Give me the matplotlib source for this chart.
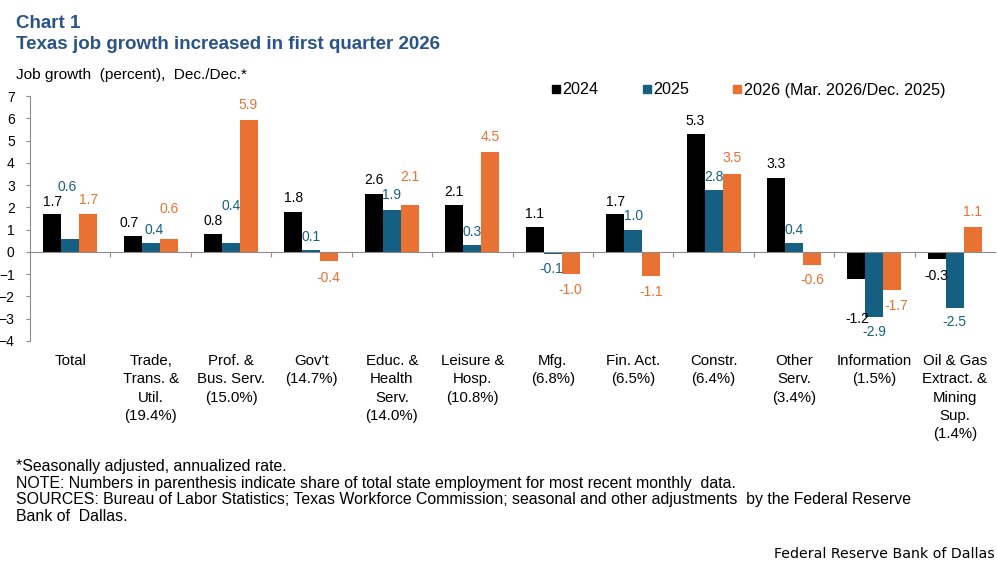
import matplotlib.pyplot as plt
from matplotlib.lines import Line2D
import numpy as np

plt.rcParams['font.family'] = ['Liberation Sans', 'DejaVu Sans']

categories = ["Total", "Trade,\nTrans. &\nUtil.\n(19.4%)", "Prof. &\nBus. Serv.\n(15.0%)",
              "Gov't\n(14.7%)", "Educ. &\nHealth\nServ.\n(14.0%)", "Leisure &\nHosp.\n(10.8%)",
              "Mfg.\n(6.8%)", "Fin. Act.\n(6.5%)", "Constr.\n(6.4%)", "Other\nServ.\n(3.4%)",
              "Information\n(1.5%)", "Oil & Gas\nExtract. &\nMining\nSup.\n(1.4%)"]
series_names = ["2024", "2025", "2026 (Mar. 2026/Dec. 2025)"]
y2024 = [1.7, 0.7, 0.8, 1.8, 2.6, 2.1, 1.1, 1.7, 5.3, 3.3, -1.2, -0.3]
y2025 = [0.6, 0.4, 0.4, 0.1, 1.9, 0.3, -0.1, 1.0, 2.8, 0.4, -2.9, -2.5]
y2026 = [1.7, 0.6, 5.9, -0.4, 2.1, 4.5, -1.0, -1.1, 3.5, -0.6, -1.7, 1.1]

# where Excel left the value labels (data units, label centre)
lab_y_2024 = [2.26, 1.31, 1.40, 2.41, 3.24, 2.71, 1.71, 2.26, 5.89, 3.96, -3.02, -1.08]
lab_y_2025 = [2.91, 0.99, 2.04, 0.69, 2.56, 0.91, -0.76, 1.59, 3.38, 0.99, -3.58, -3.13]
lab_y_2026 = [2.34, 1.92, 6.61, -1.18, 3.36, 5.18, -1.71, -1.81, 4.21, -1.26, -2.43, 1.78]
# small sideways nudges in pixels
lab_dx_2024 = [0, -3, 0, 0, 0, 0, 0, 0, 0, 0, 1, 0]
lab_dx_2025 = [-3.5, 3.4, 0, 0, 0, 0, -1, 0, 0, 0, 0, 0]
lab_dx_2026 = [0, 0, -1, -1.4, 0, 0, 0, 0, 0, 0, 4, 0]

colors = ["#000000", "#156082", "#E97132"]
title_color = "#2B5486"
axis_gray = "#8C8C8C"

W, H = 997, 565
fig = plt.figure(figsize=(W / 100, H / 100), dpi=100)
ax = fig.add_axes([30 / W, 1 - 341 / H, 965 / W, 245 / H])

x = np.arange(len(categories)) + 0.5
bw = 0.224
series = [y2024, y2025, y2026]
lab_y = [lab_y_2024, lab_y_2025, lab_y_2026]
lab_dx = [lab_dx_2024, lab_dx_2025, lab_dx_2026]
for k in range(3):
    xs = x + (k - 1) * bw
    ax.bar(xs, series[k], width=bw, color=colors[k], label=series_names[k])
    for xi, v, ly, dx in zip(xs, series[k], lab_y[k], lab_dx[k]):
        ax.annotate(f"{v:.1f}", xy=(xi, ly), xytext=(dx * 0.72, 0), textcoords="offset points",
                    ha="center", va="center", fontsize=10, color=colors[k])

ax.set_xlim(0, 12)
ax.set_ylim(-4, 7)
ax.set_yticks(range(-4, 8))
ax.set_xticks(range(1, 12))
ax.set_xticklabels([])
for s in ["top", "right"]:
    ax.spines[s].set_visible(False)
ax.spines["left"].set_color(axis_gray)
ax.spines["bottom"].set_color(axis_gray)
ax.spines["bottom"].set_position(("data", 0))
ax.spines["left"].set_linewidth(0.8)
ax.spines["bottom"].set_linewidth(0.8)
ax.tick_params(axis="y", direction="out", length=3, color=axis_gray, labelsize=10, pad=8)
ax.tick_params(axis="x", direction="out", length=3.6, color=axis_gray)

for xi, cat in zip(x, categories):
    ax.annotate(cat, xy=(xi, -4), xytext=(0, -9.4), textcoords="offset points",
                ha="center", va="top", fontsize=10.8, linespacing=1.39)

handles = [Line2D([], [], marker="s", ls="none", color=c, markersize=6) for c in colors]
fig.legend(handles, series_names, loc="center left", bbox_to_anchor=(551.5 / W, 1 - 90 / H),
           ncol=3, frameon=False, fontsize=11.6, handlelength=0.6, handletextpad=0.09,
           columnspacing=2.7, borderaxespad=0, borderpad=0)

fig.text(16 / W, 1 - 28.3 / H, "Chart 1", fontsize=13.5, weight="bold", color=title_color, va="baseline")
fig.text(16 / W, 1 - 49.3 / H, "Texas job growth increased in first quarter 2026", fontsize=13.5,
         weight="bold", color=title_color, va="baseline")
fig.text(16 / W, 1 - 79 / H, "Job growth  (percent),  Dec./Dec.*", fontsize=11.1, va="baseline")

notes = ["*Seasonally adjusted, annualized rate.",
         "NOTE: Numbers in parenthesis indicate share of total state employment for most recent monthly  data.",
         "SOURCES: Bureau of Labor Statistics; Texas Workforce Commission; seasonal and other adjustments  by the Federal Reserve",
         "Bank of  Dallas."]
for i, line in enumerate(notes):
    fig.text(16 / W, 1 - (471 + 16.7 * i) / H, line, fontsize=11.45, va="baseline")

fig.text(995 / W, 1 - 558 / H, "Federal Reserve Bank of Dallas", fontsize=10.2, ha="right",
         va="baseline", family="DejaVu Sans")

fig.savefig("out.png", dpi=100)
